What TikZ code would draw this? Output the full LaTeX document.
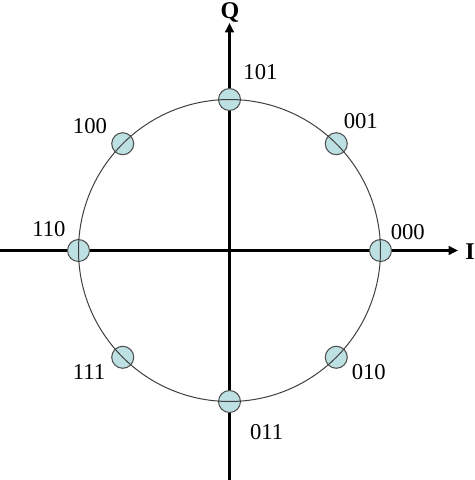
\documentclass[tikz,border=0pt]{standalone}
\usepackage{fontspec}
\setmainfont{Liberation Serif}
\usetikzlibrary{arrows.meta,calc}
\definecolor{ptfill}{HTML}{BDE0E2}
\definecolor{ptline}{HTML}{505050}
\definecolor{ringcol}{HTML}{404040}
\begin{document}
\begin{tikzpicture}[x=0.75pt,y=-0.75pt,
  axis/.style={line width=2.3pt,-{Triangle[length=7pt,width=6.5pt]}},
  pt/.style={circle,draw=ptline,fill=ptfill,line width=0.8pt,minimum size=16.5pt,inner sep=0pt},
  lbl/.style={font=\fontsize{17}{19}\selectfont,inner sep=0pt},
  axlbl/.style={font=\fontsize{18}{20}\selectfont\bfseries,inner sep=0pt}]
\useasboundingbox (0,0) rectangle (475,480);
\coordinate (O) at (229.5,250.5);
\coordinate (L) at (0,250.5);
\coordinate (R) at (458,250.5);
\coordinate (B) at (229.5,480);
\coordinate (T) at (229.5,23);
\draw[axis] (L) -- (R);
\draw[axis] (B) -- (T);
\node[axlbl] (Ilab) at (470,252) {I};
\node[axlbl] (Qlab) at (230,12) {Q};
\node[pt] (p000) at ($(O)+(0:151)$) {};
\node[pt] (p001) at ($(O)+(-45:151)$) {};
\node[pt] (p101) at ($(O)+(-90:151)$) {};
\node[pt] (p100) at ($(O)+(-135:151)$) {};
\node[pt] (p110) at ($(O)+(180:151)$) {};
\node[pt] (p111) at ($(O)+(135:151)$) {};
\node[pt] (p011) at ($(O)+(90:151)$) {};
\node[pt] (p010) at ($(O)+(45:151)$) {};
\draw[ringcol,line width=0.75pt] (O) circle[radius=151];
\node[lbl] (l101) at (260.5,72.5) {101};
\node[lbl] (l001) at (360.8,121) {001};
\node[lbl] (l100) at (90,126) {100};
\node[lbl] (l000) at (407.8,231.7) {000};
\node[lbl] (l110) at (49,229.5) {110};
\node[lbl] (l111) at (89,372.5) {111};
\node[lbl] (l010) at (368.8,372.5) {010};
\node[lbl] (l011) at (266.7,431.7) {011};
\end{tikzpicture}
\end{document}
